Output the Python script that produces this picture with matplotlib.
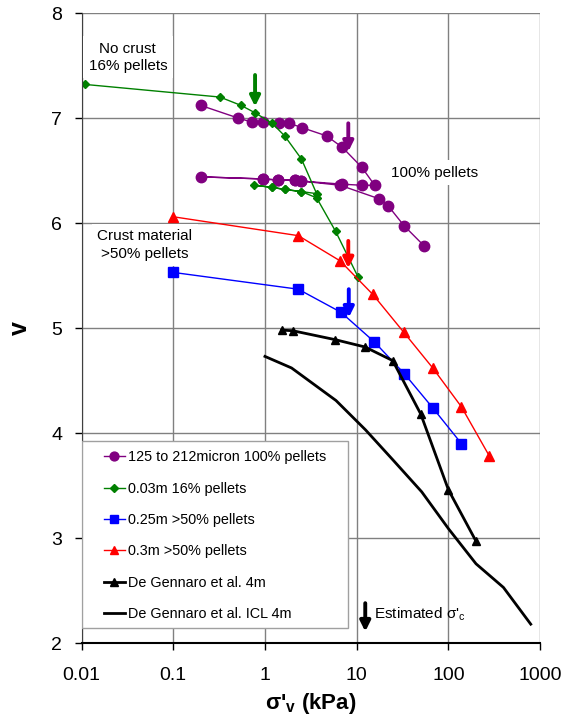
import matplotlib.pyplot as plt
from matplotlib.patches import Rectangle

plt.rcParams.update({
    "font.family": ["Liberation Sans", "DejaVu Sans"],
    "mathtext.fontset": "custom",
    "mathtext.rm": "Liberation Sans",
    "mathtext.it": "Liberation Sans",
    "mathtext.bf": "Liberation Sans:bold",
})

# 125 to 212 micron, 100% pellets (load, unload, reload)
purple_s = [0.2, 0.51, 0.73, 0.96, 1.42, 1.84, 2.51, 4.7, 7.0, 11.4, 15.7,
            11.4, 7.0, 2.5, 2.1, 1.4, 0.96, 0.2,
            0.96, 1.4, 2.1, 2.5, 6.6, 17.7, 22.0, 32.8, 54.7]
purple_v = [7.12, 7.00, 6.96, 6.96, 6.95, 6.95, 6.91, 6.83, 6.72, 6.53, 6.36,
            6.36, 6.37, 6.40, 6.41, 6.41, 6.42, 6.44,
            6.42, 6.41, 6.41, 6.40, 6.36, 6.23, 6.165, 5.975, 5.78]

# 0.03m, 16% pellets
green_s = [0.011, 0.323, 0.55, 0.78, 1.2, 1.64, 2.5, 3.66,
           2.5, 1.64, 1.2, 0.76,
           1.2, 1.64, 2.5, 3.66, 5.9, 10.3]
green_v = [7.32, 7.20, 7.12, 7.05, 6.95, 6.83, 6.61, 6.28,
           6.30, 6.32, 6.34, 6.36,
           6.34, 6.32, 6.30, 6.24, 5.92, 5.49]

# 0.25m, >50% pellets
blue_s = [0.1, 2.31, 6.75, 15.5, 33.1, 67.5, 138.6]
blue_v = [5.53, 5.37, 5.15, 4.87, 4.565, 4.24, 3.90]

# 0.3m, >50% pellets
red_s = [0.1, 2.31, 6.6, 15.0, 32.6, 67.5, 138.6, 280]
red_v = [6.06, 5.88, 5.64, 5.32, 4.96, 4.62, 4.25, 3.78]

# De Gennaro et al. 4m
dg_s = [1.52, 2.0, 5.8, 12.3, 24.7, 50, 100, 200]
dg_v = [4.98, 4.975, 4.89, 4.82, 4.69, 4.18, 3.46, 2.97]

# De Gennaro et al. ICL 4m
icl_s = [1.0, 1.95, 5.95, 12.5, 25.1, 51.2, 100, 200, 398, 790]
icl_v = [4.73, 4.62, 4.31, 4.03, 3.74, 3.44, 3.09, 2.755, 2.53, 2.18]

# estimated sigma'_c arrows: x, v_start, v_end, colour
arrows = [
    (0.78, 7.41, 7.11, "#008000"),
    (8.1, 6.95, 6.68, "#800080"),
    (8.1, 5.83, 5.57, "#FF0000"),
    (8.2, 5.37, 5.10, "#0000FF"),
]

fig = plt.figure(figsize=(5.74, 7.25), dpi=100)
ax = fig.add_axes([0.142, 0.113, 0.799, 0.869])

ax.plot(purple_s, purple_v, color="#800080", marker="o", markersize=7.5, lw=1,
        label="125 to 212micron 100% pellets")
ax.plot(green_s, green_v, color="#008000", marker="D", markersize=4.5, lw=1,
        label="0.03m 16% pellets")
ax.plot(blue_s, blue_v, color="#0000FF", marker="s", markersize=6.5, lw=1,
        label="0.25m >50% pellets")
ax.plot(red_s, red_v, color="#FF0000", marker="^", markersize=7, lw=1,
        label="0.3m >50% pellets")
ax.plot(dg_s, dg_v, color="black", marker="^", markersize=6, lw=2,
        label="De Gennaro et al. 4m")
ax.plot(icl_s, icl_v, color="black", lw=2, label="De Gennaro et al. ICL 4m")

for x, v0, v1, c in arrows:
    ax.annotate("", xy=(x, v1), xytext=(x, v0),
                arrowprops=dict(arrowstyle="-|>", color=c, lw=2.8, mutation_scale=15,
                                shrinkA=0, shrinkB=0))

ax.annotate("", xy=(12.4, 2.11), xytext=(12.4, 2.38),
            arrowprops=dict(arrowstyle="-|>", color="black", lw=2.8, mutation_scale=15,
                            shrinkA=0, shrinkB=0))
ax.text(15.5, 2.27, "Estimated σ'$_c$", fontsize=11, va="center", ha="left")

bbox = dict(facecolor="white", edgecolor="none", pad=4)
ax.text(0.032, 7.58, "No crust\n16% pellets", fontsize=11, ha="center", va="center",
        bbox=bbox, linespacing=1.3)
ax.text(0.049, 5.79, "Crust material\n>50% pellets", fontsize=11, ha="center", va="center",
        bbox=bbox, linespacing=1.3)
ax.text(70, 6.48, "100% pellets", fontsize=11, ha="center", va="center", bbox=bbox)

ax.set_xscale("log")
ax.set_xlim(0.01, 1000)
ax.set_ylim(2, 8)
ax.set_xticks([0.01, 0.1, 1, 10, 100, 1000])
ax.set_xticklabels(["0.01", "0.1", "1", "10", "100", "1000"])
ax.set_yticks(range(2, 9))
ax.minorticks_off()
ax.tick_params(labelsize=14, direction="out", length=5, width=1)
ax.tick_params(axis="x", pad=12)
ax.tick_params(axis="y", pad=9)
ax.grid(True, color="#808080", lw=1)
ax.set_axisbelow(True)
for side in ["top", "right"]:
    ax.spines[side].set_visible(False)
ax.spines["left"].set_color("#404040")
ax.spines["bottom"].set_linewidth(1.5)

ax.set_xlabel("σ'$_\\mathbf{v}$ (kPa)", fontsize=16, fontweight="bold", labelpad=5)
ax.set_ylabel("v", fontsize=18, fontweight="bold", labelpad=14)

# legend box drawn separately so the handles can sit further in from its edge
ax.add_patch(Rectangle((0.002, 0.024), 0.579, 0.296, transform=ax.transAxes,
                       facecolor="white", edgecolor="#a0a0a0", lw=1, zorder=4.9))
leg = ax.legend(loc="upper left", bbox_to_anchor=(0.0487, 0.306), frameon=False,
                fontsize=10.4, handlelength=1.45, handletextpad=0.2, borderaxespad=0,
                borderpad=0, labelspacing=1.2)
for h in leg.legend_handles:
    h.set_markersize(h.get_markersize() * 0.85)

fig.savefig("out.png", dpi=100)
